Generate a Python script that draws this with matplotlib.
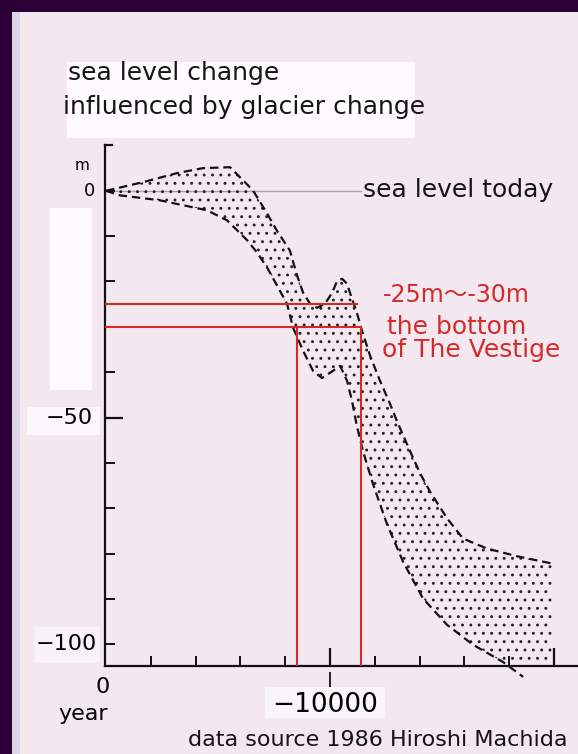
import numpy as np
import matplotlib
matplotlib.use("Agg")
import matplotlib.pyplot as plt
from matplotlib.patches import Rectangle

plt.rcParams['font.family'] = ['DejaVu Sans', 'Noto Sans CJK JP']

# ---------------- data (years before present, metres) ----------------
upper_years = [0, 1650, 3170, 4330, 5540, 6120, 6560, 7190, 7630, 8210, 8530, 8800,
               9110, 9420, 9780, 10090, 10310, 10540, 10760, 10980, 11200, 11430,
               11790, 12230, 12680, 12990, 13570, 14020, 14460, 15220, 15940,
               17010, 18350, 19910]
upper_m = [0, 1.9, 3.9, 5.0, 5.2, 2.3, 0.1, -5.0, -8.8, -13.2, -18.7, -22.5,
           -24.9, -25.8, -24.9, -22.5, -20.0, -19.4, -20.5, -23.8, -26.9, -30.9,
           -36.4, -41.9, -47.0, -50.8, -57.4, -62.3, -66.3, -72.2, -76.7,
           -78.9, -80.6, -82.2]

lower_years = [0, 625, 2410, 4510, 5400, 6300, 6740, 7190, 8080, 8350, 8800, 9240,
               9640, 10130, 10450, 10760, 10980, 11200, 11470, 11920, 12550, 13260,
               14150, 15220, 16380, 17720, 18620]
lower_m = [0, -1.0, -2.1, -4.3, -6.5, -10.9, -13.6, -16.9, -24.9, -30.2, -35.3, -39.7,
           -41.3, -39.7, -38.6, -41.9, -46.3, -51.9, -57.4, -64.7, -73.6, -81.8,
           -89.9, -95.7, -100.1, -103.9, -107.2]

sea_level_today = 0
today_line_end = 11400

red_levels = [-25, -30]
red_level_ends = [11200, 11400]
red_vert_years = [8530, 11400]

x_minor_ticks = [2000, 4000, 6000, 8000, 12000, 14000, 16000, 18000]
x_major_ticks = [10000, 20000]
y_minor_ticks = [0, -10, -20, -30, -40, -60, -70, -80, -90, -100]
y_major_ticks = [-50]

title_lines = ["sea level change", "influenced by glacier change"]
red_lines_text = ["-25m\u301c-30m", "the bottom", "of The Vestige"]
source_text = "data source 1986 Hiroshi Machida"

# ---------------- figure ----------------
W, H = 578, 754
fig = plt.figure(figsize=(W / 100, H / 100), dpi=100)
fig.patch.set_facecolor('#2c0036')


def fx(x):
    return x / W


def fy(y):
    return 1 - y / H


def box(x0, y0, x1, y1, color, z=-5):
    fig.add_artist(Rectangle((fx(x0), fy(y1)), (x1 - x0) / W, (y1 - y0) / H,
                             transform=fig.transFigure, facecolor=color,
                             edgecolor='none', zorder=z))


paper = '#f4e8f0'
box(12, 12, W, H, paper, z=-10)
box(12, 12, 20, H, '#ddd6e6', z=-9)
# white masked areas of the scan
box(67, 62, 415, 138, '#fdfbfd')
box(50, 208, 92, 390, '#fdfbfd')
box(27, 407, 100, 435, '#fbf7fa')
box(35, 627, 100, 663, '#f8f1f6')
box(265, 687, 385, 718, '#faf5f9')

ax = fig.add_axes([fx(105), fy(666), (W - 105) / W, (666 - 145) / H])
ax.patch.set_alpha(0)
ax.set_xlim(-45, 21070)
ax.set_ylim(-104.8, 10.1)
for s in ['top', 'right']:
    ax.spines[s].set_visible(False)
for s in ['left', 'bottom']:
    ax.spines[s].set_linewidth(1.6)
    ax.spines[s].set_color('#111111')

ax.plot([0, 0.015], [1, 1], transform=ax.transAxes, color='#111111', lw=1.6,
        clip_on=False)

ax.set_xticks(x_major_ticks)
ax.set_xticks(x_minor_ticks, minor=True)
ax.set_yticks(y_major_ticks)
ax.set_yticks(y_minor_ticks, minor=True)
ax.tick_params(which='both', direction='in', labelbottom=False, labelleft=False,
               color='#111111')
ax.tick_params(which='major', length=13, width=1.6)
ax.tick_params(which='minor', length=7.5, width=1.4)

# small mark under the -10000 tick
ax.plot([10000, 10000], [-106.3, -109.2], color='#222222', lw=1.4, clip_on=False)

# sea level today reference line
ax.plot([0, today_line_end], [sea_level_today, sea_level_today], color='#a8a4a8',
        lw=1.0, zorder=1)

# band
xs = np.union1d(upper_years, lower_years)
up = np.interp(xs, upper_years, upper_m)
lo = np.interp(xs, lower_years, lower_m)
plt.rcParams['hatch.linewidth'] = 0.9
ax.fill_between(xs, lo, up, facecolor='none', edgecolor='#222222', hatch='..',
                linewidth=0, zorder=2)
ax.plot(upper_years, upper_m, color='#111111', lw=1.6, ls=(0, (3.8, 2.2)), zorder=3)
ax.plot(lower_years, lower_m, color='#111111', lw=1.6, ls=(0, (3.8, 2.2)), zorder=3,
        clip_on=False)

# red guide lines
red = '#d42a2a'
for lvl, end in zip(red_levels, red_level_ends):
    ax.plot([0, end], [lvl, lvl], color=red, lw=1.5, zorder=4)
ax.vlines(red_vert_years, ax.get_ylim()[0], min(red_levels), color=red, lw=1.5,
          zorder=4)

# axis labels
ytr = ax.get_yaxis_transform()
ax.text(-0.02, 0, "0", transform=ytr, ha='right', va='center', fontsize=13)
ax.text(-0.025, -50, "\u221250", transform=ytr, ha='right', va='center', fontsize=16)
ax.text(-0.017, -100, "\u2212100", transform=ytr, ha='right', va='center', fontsize=16)
fig.text(fx(82), fy(165), "m", ha='center', va='center', fontsize=11)

xtr = ax.get_xaxis_transform()
ax.text(-150, -0.04, "0", transform=xtr, ha='center', va='center', fontsize=16)
ax.text(-1000, -0.093, "year", transform=xtr, ha='center', va='center', fontsize=16)
ax.text(9800, -0.075, "\u221210000", transform=xtr, ha='center', va='center',
        fontsize=19)

# texts
fig.text(fx(68), fy(73), title_lines[0], ha='left', va='center', fontsize=18,
         color='#151515')
fig.text(fx(63), fy(107), title_lines[1], ha='left', va='center', fontsize=18,
         color='#151515')
fig.text(fx(363), fy(190), "sea level today", ha='left', va='center', fontsize=18,
         color='#151515')
fig.text(fx(383), fy(295), red_lines_text[0], ha='left', va='center', fontsize=17,
         color=red)
fig.text(fx(387), fy(327), red_lines_text[1], ha='left', va='center', fontsize=18,
         color=red)
fig.text(fx(382), fy(350), red_lines_text[2], ha='left', va='center', fontsize=18,
         color=red)
fig.text(fx(188), fy(740), source_text, ha='left', va='center', fontsize=16,
         color='#151515')

fig.savefig("out.png", dpi=100, facecolor=fig.get_facecolor())
